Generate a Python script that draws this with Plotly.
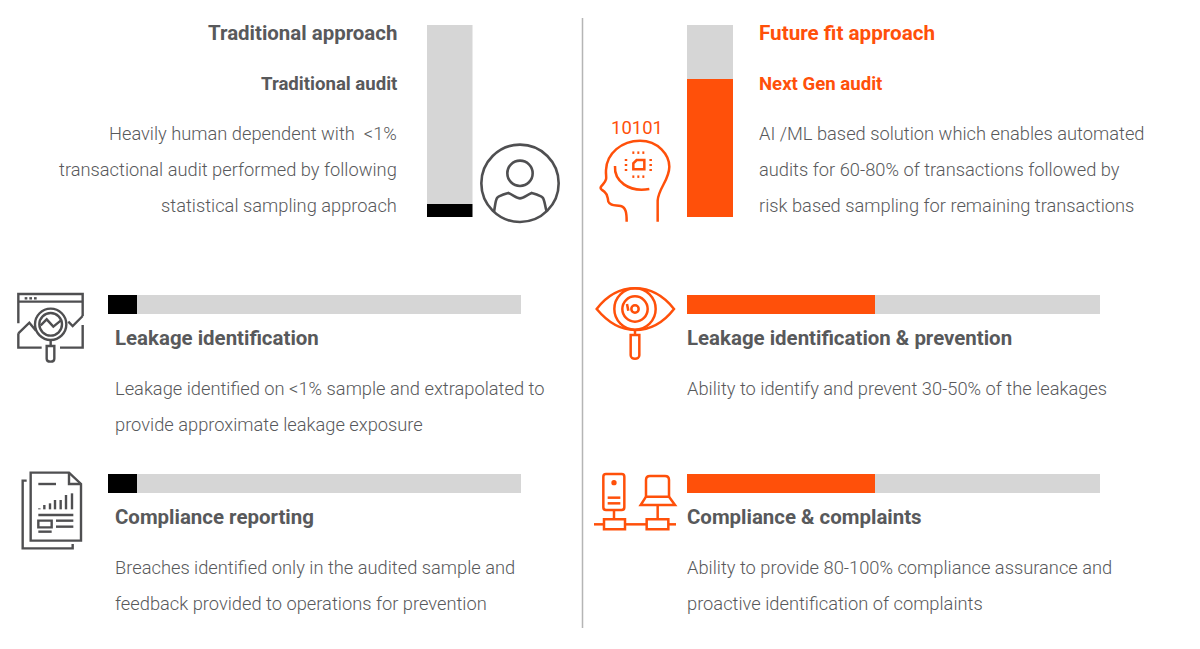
import re
import plotly.graph_objects as go

W, H = 1200, 649
GREY = "#d6d6d6"
BLACK = "#000000"
ORANGE = "#ff500a"
TEXT = "#58595b"
ICON = "#4f4f51"

# share of each bar that is filled
vert_names = ["Traditional audit", "Next Gen audit"]
vert_filled = [7, 72]
horiz_names = ["Leakage identification", "Compliance reporting",
               "Leakage identification & prevention", "Compliance & complaints"]
horiz_filled = [7, 7, 45.5, 45.5]

left_head = ["Traditional approach", "Traditional audit"]
left_body = ["Heavily human dependent with\u00a0\u00a0<1%",
             "transactional audit performed by following",
             "statistical sampling approach"]
right_head = ["Future fit approach", "Next Gen audit"]
right_body = ["AI /ML based solution which enables automated",
              "audits for 60-80% of transactions followed by",
              "risk based sampling for remaining transactions"]
leak_l = ["Leakage identified on <1% sample and extrapolated to",
          "provide approximate leakage exposure"]
comp_l = ["Breaches identified only in the audited sample and",
          "feedback provided to operations for prevention"]
leak_r = ["Ability to identify and prevent 30-50% of the leakages"]
comp_r = ["Ability to provide 80-100% compliance assurance and",
          "proactive identification of complaints"]

fig = go.Figure()
layout = dict(
    width=W, height=H, margin=dict(l=0, r=0, t=0, b=0),
    paper_bgcolor="white", plot_bgcolor="rgba(0,0,0,0)",
    barmode="stack", bargap=0, showlegend=False,
    xaxis=dict(domain=[0, 1], range=[0, W], visible=False, fixedrange=True),
    yaxis=dict(domain=[0, 1], range=[H, 0], visible=False, fixedrange=True),
)
n_axes = 1


def add_bar(name, filled, color, box, horizontal):
    # each bar has its own 0-100 axis placed on the page
    global n_axes
    n_axes += 1
    x0, y0, x1, y1 = box
    xa, ya = "x%d" % n_axes, "y%d" % n_axes
    vdom = [x0 / W, x1 / W] if horizontal else [1 - y1 / H, 1 - y0 / H]
    cdom = [1 - y1 / H, 1 - y0 / H] if horizontal else [x0 / W, x1 / W]
    val = dict(range=[0, 100], visible=False, fixedrange=True)
    cat = dict(type="category", visible=False, fixedrange=True)
    if horizontal:
        layout["xaxis%d" % n_axes] = dict(val, domain=vdom, anchor=ya)
        layout["yaxis%d" % n_axes] = dict(cat, domain=cdom, anchor=xa)
    else:
        layout["xaxis%d" % n_axes] = dict(cat, domain=cdom, anchor=ya)
        layout["yaxis%d" % n_axes] = dict(val, domain=vdom, anchor=xa)
    for v, c in [(filled, color), (100 - filled, GREY)]:
        if horizontal:
            fig.add_trace(go.Bar(x=[v], y=[name], orientation="h", marker=dict(color=c, line_width=0),
                                 xaxis=xa, yaxis=ya))
        else:
            fig.add_trace(go.Bar(x=[name], y=[v], marker=dict(color=c, line_width=0),
                                 xaxis=xa, yaxis=ya))


add_bar(vert_names[0], vert_filled[0], BLACK, (427, 25, 472.5, 217), False)
add_bar(vert_names[1], vert_filled[1], ORANGE, (687, 25, 733, 217), False)
add_bar(horiz_names[0], horiz_filled[0], BLACK, (108, 295, 521, 314), True)
add_bar(horiz_names[1], horiz_filled[1], BLACK, (108, 474, 521, 493), True)
add_bar(horiz_names[2], horiz_filled[2], ORANGE, (687, 295, 1100, 314), True)
add_bar(horiz_names[3], horiz_filled[3], ORANGE, (687, 474, 1100, 493), True)

notes = []
BODY = 18.3
SUB = 18.6
HEAD = 20.45


def label(x, y, s, size=BODY, weight=300, color=TEXT, anchor="left"):
    notes.append(dict(x=x, y=y, xref="x", yref="y", text=s, showarrow=False, xanchor=anchor, yanchor="middle",
                      borderpad=0, borderwidth=0,
                      font=dict(family="Roboto", size=size, color=color, weight=weight)))


def lines(x, ys, rows, anchor="left"):
    for y, s in zip(ys, rows):
        label(x, y, s, anchor=anchor)


label(396.5, 33, left_head[0], HEAD, 700, anchor="right")
label(396.5, 84, left_head[1], SUB, 700, anchor="right")
lines(396.5, [133.5, 169.5, 205.5], left_body, "right")
label(759, 33, right_head[0], HEAD + 0.2, 700, ORANGE)
label(759, 84, right_head[1], SUB, 700, ORANGE)
lines(759, [133.5, 169.5, 205.5], right_body)
label(115, 338, horiz_names[0], HEAD, 700)
lines(115, [388.5, 424.5], leak_l)
label(115, 517, horiz_names[1], HEAD, 700)
lines(115, [567.5, 603.5], comp_l)
label(687, 338, horiz_names[2], HEAD, 700)
lines(687, [388.5], leak_r)
label(687, 517, horiz_names[3], HEAD, 700)
lines(687, [567.5, 603.5], comp_r)
label(636.5, 128, "10101", 18.5, 400, ORANGE, "center")

shapes = [dict(type="line", xref="x", yref="y", x0=582.5, x1=582.5, y0=18, y1=628,
               line=dict(color="#b5b5b5", width=1.5))]


def icon(paths, ox, oy, color, width=2.5, circles=(), fills=()):
    # icon outlines were traced on 3x crops, so scale them back to the page
    def conv(p):
        nums = iter(re.findall(r"[A-Za-z]|-?\d+\.?\d*", p))
        out, is_x = [], True
        for t in nums:
            if t.isalpha():
                out.append(t)
                is_x = True
            else:
                out.append("%.2f" % ((ox + float(t) / 3) if is_x else (oy + float(t) / 3)))
                is_x = not is_x
        return " ".join(out)
    for p in paths:
        shapes.append(dict(type="path", path=conv(p), xref="x", yref="y", line=dict(color=color, width=width)))
    for cx, cy, r in circles:
        shapes.append(dict(type="circle", xref="x", yref="y", x0=ox + (cx - r) / 3, x1=ox + (cx + r) / 3,
                           y0=oy + (cy - r) / 3, y1=oy + (cy + r) / 3, line=dict(color=color, width=width)))
    for cx, cy, r in fills:
        shapes.append(dict(type="circle", xref="x", yref="y", x0=ox + (cx - r) / 3, x1=ox + (cx + r) / 3,
                           y0=oy + (cy - r) / 3, y1=oy + (cy + r) / 3, fillcolor=color, line_width=0))


# person
icon(["M222,605 C226,585 226,570 232,563 C240,555 255,552 265,549 C280,555 290,565 300,565 "
      "C310,565 320,555 335,549 C345,552 360,555 368,563 C374,570 374,585 380,605"],
     420, 10, ICON, 2.6, circles=[(300, 520, 116), (300, 490, 38)])

# head with chip
chip_dots = []
for x in (130, 145, 160):
    chip_dots += ["M%d,128 L%d,128" % (x - 3, x + 3), "M%d,200 L%d,200" % (x - 3, x + 3)]
for y in (150, 165, 180):
    chip_dots += ["M108,%d L108,%d" % (y - 3, y + 3), "M182,%d L182,%d" % (y - 3, y + 3)]
icon(["M110,335 C110,310 108,292 92,288 C75,285 60,288 55,275 C52,262 55,255 44,246 C38,240 30,238 32,232 "
      "C36,224 46,218 48,208 C50,200 47,195 48,180 C50,130 95,92 150,92 C205,92 238,135 238,170 "
      "C238,210 205,235 203,272 L203,335",
      "M75,168 C72,212 115,248 178,237",
      "M130,178 L130,160 L140,150 L163,150 L163,178 Z"] + chip_dots,
     590, 110, ORANGE, 2.5)

# browser window with magnifier
icon(["M55,130 L55,42 L248,42 L248,108", "M55,65 L248,65", "M55,160 L88,128 L108,152",
      "M205,125 L218,138 L248,108", "M55,160 L55,203 L125,203", "M180,203 L248,203 L248,135",
      "M122,136 L140,118 L160,140 L182,122", "M152,180 L152,198",
      "M140,198 L163,198 L163,236 C163,248 140,248 140,236 Z",
      "M74,55 L82,55", "M88,55 L96,55", "M102,55 L110,55"],
     0, 280, ICON, 2.4, circles=[(152, 133, 47), (152, 133, 34)])

# report
bars = [(118, 145), (133, 135), (150, 130), (165, 120), (182, 120), (198, 105), (216, 100)]
icon(["M92,38 L207,38 L243,72 L243,242 L92,242 Z", "M207,38 L207,72 L243,72",
      "M80,62 L68,62 L68,265 L218,265 L218,252", "M115,72 L168,72",
      "M115,165 L220,165", "M115,182 L155,182 L155,202 L115,202 Z", "M168,182 L220,182",
      "M168,200 L220,200", "M115,215 L155,215"] + ["M%d,%d L%d,148" % (x, y, x) for x, y in bars],
     0, 460, ICON, 2.4)

# eye
icon(["M35,87 C75,35 115,25 150,25 C190,25 230,40 267,87 C230,135 190,150 150,150 C115,150 75,135 35,87 Z",
      "M126,72 L130,92", "M150,150 L150,165",
      "M137,165 L163,165 L163,226 C163,240 137,240 137,226 Z"],
     585, 280, ORANGE, 2.5, circles=[(150, 87, 62), (150, 87, 38), (150, 87, 11)])

# network
icon(["M63,42 L110,42 C115,42 118,45 118,50 L118,142 C118,147 115,150 110,150 L63,150 C58,150 55,147 55,142 "
      "L55,50 C55,45 58,42 63,42 Z",
      "M68,113 L106,113", "M68,130 L106,130", "M87,150 L87,178",
      "M57,178 L120,178 L120,208 L57,208 Z", "M185,178 L250,178 L250,208 L185,208 Z",
      "M27,193 L57,193", "M120,193 L185,193", "M250,193 L273,193", "M218,135 L218,178",
      "M183,110 L183,60 C183,52 187,48 195,48 L240,48 C248,48 252,52 252,60 L252,110",
      "M183,110 L252,110 L270,135 L167,135 Z"],
     585, 460, ORANGE, 2.5, fills=[(87, 68, 8)])

layout["annotations"] = notes
layout["shapes"] = shapes
fig.update_layout(**layout)
fig.write_html("out.html", config={"displayModeBar": False},
               post_script="document.body.style.margin='0';document.body.style.overflow='hidden';")
